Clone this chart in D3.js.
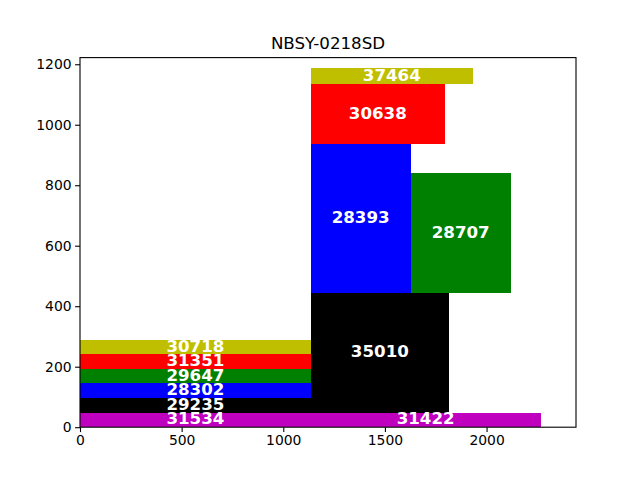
<!DOCTYPE html>
<html>
<head>
<meta charset="utf-8">
<script src="https://cdn.jsdelivr.net/npm/d3@7"></script>
<style>
  body { margin: 0; background: #fff; }
  svg text { font-family: "DejaVu Sans", sans-serif; }
</style>
</head>
<body>
<div id="chart"></div>
<script>
// two columns of stacked boxes, the colour follows the level in the column
const col1Ids = [31534, 29235, 28302, 29647, 31351, 30718]
const col1X = [0, 0, 0, 0, 0, 0]
const col1Y = [0, 48, 95, 145, 192, 242]
const col1W = [1135, 1135, 1135, 1135, 1135, 1135]
const col1H = [48, 47, 50, 47, 50, 46]

const col2Ids = [31422, 35010, 28393, 28707, 30638, 37464]
const col2X = [1135, 1135, 1135, 1626, 1135, 1135]
const col2Y = [0, 48, 445, 445, 936, 1134]
const col2W = [1131, 680, 491, 494, 660, 798]
const col2H = [48, 397, 491, 394, 198, 53]

const xTicks = [0, 500, 1000, 1500, 2000]
const yTicks = [0, 200, 400, 600, 800, 1000, 1200]
const xMax = 2440
const yMax = 1222
const title = 'NBSY-0218SD'

const levelColors = ['#bf00bf', '#000000', '#0000ff', '#008000', '#ff0000', '#bfbf00']

const boxes = []
col1Ids.forEach((id, i) => boxes.push({id, x: col1X[i], y: col1Y[i], w: col1W[i], h: col1H[i], level: i}))
col2Ids.forEach((id, i) => boxes.push({id, x: col2X[i], y: col2Y[i], w: col2W[i], h: col2H[i], level: i}))

const margin = {top: 57.6, right: 64, bottom: 52.8, left: 80}
const width = 640 - margin.left - margin.right
const height = 480 - margin.top - margin.bottom

const xScale = d3.scaleLinear().domain([0, xMax]).range([0, width])
const yScale = d3.scaleLinear().domain([0, yMax]).range([height, 0])

const svg = d3.select('#chart').append('svg')
  .attr('width', 640)
  .attr('height', 480)

svg.append('text')
  .attr('x', margin.left + width / 2)
  .attr('y', margin.top - 9)
  .attr('text-anchor', 'middle')
  .attr('font-size', '16.67px')
  .text(title)

const g = svg.append('g')
  .attr('transform', 'translate(' + margin.left + ',' + margin.top + ')')

g.append('g').selectAll('rect')
  .data(boxes)
  .enter().append('rect')
  .attr('shape-rendering', 'crispEdges')
  .attr('x', d => xScale(d.x))
  .attr('y', d => yScale(d.y + d.h))
  .attr('width', d => xScale(d.x + d.w) - xScale(d.x))
  .attr('height', d => yScale(d.y) - yScale(d.y + d.h))
  .attr('fill', d => levelColors[d.level % levelColors.length])

g.append('g').selectAll('text')
  .data(boxes)
  .enter().append('text')
  .attr('x', d => xScale(d.x + d.w / 2))
  .attr('y', d => yScale(d.y + d.h / 2))
  .attr('text-anchor', 'middle')
  .attr('dy', '0.27em')
  .attr('fill', '#fff')
  .attr('font-weight', 'bold')
  .attr('font-size', '16.67px')
  .text(d => d.id)

// frame
g.append('rect')
  .attr('width', width)
  .attr('height', height)
  .attr('fill', 'none')
  .attr('stroke', '#000')
  .attr('stroke-width', 1.1)

const xAxis = g.append('g')
  .attr('transform', 'translate(0,' + height + ')')
  .call(d3.axisBottom(xScale).tickValues(xTicks).tickFormat(d3.format('d')).tickSize(4.9).tickPadding(3.5).tickSizeOuter(0))
const yAxis = g.append('g')
  .call(d3.axisLeft(yScale).tickValues(yTicks).tickFormat(d3.format('d')).tickSize(4.9).tickPadding(3.5).tickSizeOuter(0))

;[xAxis, yAxis].forEach(ax => {
  ax.select('.domain').remove()
  ax.selectAll('.tick line').attr('stroke-width', 1.1)
  ax.selectAll('.tick text')
    .attr('font-family', '"DejaVu Sans", sans-serif')
    .attr('font-size', '13.9px')
    .attr('fill', '#000')
})
</script>
</body>
</html>
